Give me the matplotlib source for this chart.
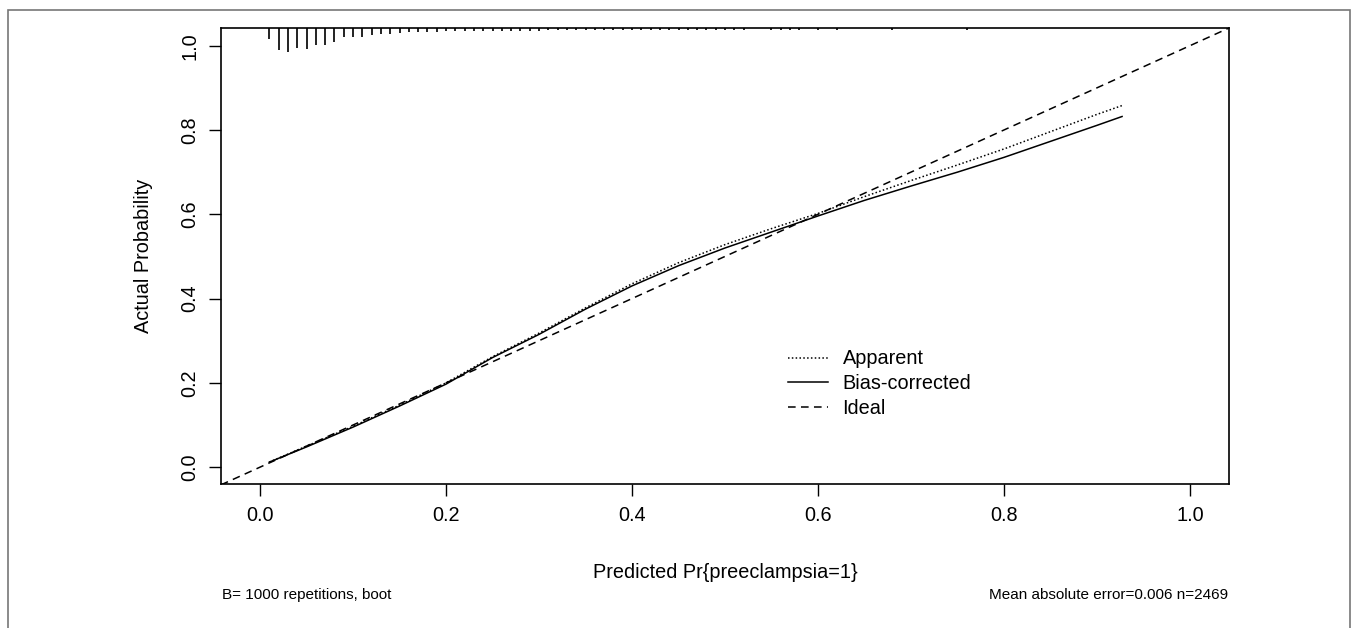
import numpy as np
import matplotlib
matplotlib.use("Agg")
import matplotlib.pyplot as plt
from matplotlib.patches import Rectangle

plt.rcParams['font.family'] = ['Liberation Sans', 'DejaVu Sans']

# calibration curves
pred = [0.01, 0.05, 0.10, 0.15, 0.20, 0.25, 0.30, 0.35, 0.40, 0.45,
        0.50, 0.55, 0.60, 0.65, 0.70, 0.75, 0.80, 0.85, 0.90, 0.927]
apparent = [0.012, 0.050, 0.097, 0.147, 0.200, 0.262, 0.318, 0.378, 0.435, 0.485,
            0.528, 0.566, 0.602, 0.642, 0.680, 0.717, 0.755, 0.796, 0.837, 0.858]
bias_corrected = [0.012, 0.048, 0.095, 0.145, 0.197, 0.260, 0.315, 0.375, 0.430, 0.478,
                  0.520, 0.558, 0.596, 0.633, 0.667, 0.700, 0.735, 0.773, 0.811, 0.832]

# distribution of predictions (spike histogram at top), heights in pixels
rug_x = [0.01, 0.02, 0.03, 0.04, 0.05, 0.06, 0.07, 0.08, 0.09, 0.10,
         0.11, 0.12, 0.13, 0.14, 0.15, 0.16, 0.17, 0.18, 0.19, 0.20,
         0.21, 0.22, 0.23, 0.24, 0.25, 0.26, 0.27, 0.28, 0.29, 0.30,
         0.31, 0.32, 0.33, 0.34, 0.35, 0.36, 0.37, 0.38, 0.39, 0.40,
         0.41, 0.42, 0.43, 0.44, 0.45, 0.46, 0.47, 0.48, 0.49, 0.50,
         0.51, 0.52, 0.55, 0.56, 0.57, 0.58, 0.60, 0.62, 0.68, 0.76]
rug_px = [11, 22, 24, 20, 21, 17, 17, 14, 9, 9,
          9, 7, 6, 6, 5, 4, 4, 4, 4, 3,
          3, 3, 3, 3, 2.5, 2.5, 3, 3, 3, 3,
          2, 2, 2, 2, 2, 2, 2, 2, 2, 2,
          2, 2, 2, 2, 2, 2, 2, 2, 2, 2,
          2, 2, 2, 2, 2, 2, 1.5, 1.5, 1.5, 1.5]

xlim = (-0.042, 1.042)
ylim = (-0.040, 1.042)

fig = plt.figure(figsize=(13.57, 6.28), dpi=100)
ax = fig.add_axes([221 / 1357, 1 - 484 / 628, 1008 / 1357, 456 / 628])

# outer frame of the figure
fig.patches.append(Rectangle((8 / 1357, -0.02), 1342 / 1357, 1.02 - 10 / 628,
                             transform=fig.transFigure, fill=False,
                             edgecolor='#777777', linewidth=1.2))

px_per_unit = 456 / (ylim[1] - ylim[0])
h = np.array(rug_px) / px_per_unit
ax.vlines(rug_x, ylim[1] - h, ylim[1], color='#222222', linewidth=1.4)

ax.plot(xlim, xlim, color='black', linestyle=(0, (5, 3.5)), linewidth=1.1, label='Ideal')
ax.plot(pred, apparent, color='black', linestyle=(0, (1, 1.5)), linewidth=1.1, label='Apparent')
ax.plot(pred, bias_corrected, color='black', linestyle='-', linewidth=1.1, label='Bias-corrected')

ax.set_xlim(xlim)
ax.set_ylim(ylim)
ax.set_xticks([0.0, 0.2, 0.4, 0.6, 0.8, 1.0])
ax.set_yticks([0.0, 0.2, 0.4, 0.6, 0.8, 1.0])
ax.set_xticklabels(['0.0', '0.2', '0.4', '0.6', '0.8', '1.0'])
ax.set_yticklabels(['0.0', '0.2', '0.4', '0.6', '0.8', '1.0'], rotation=90, va='center')
ax.tick_params(direction='out', length=8.5, width=1.0, labelsize=14.3, pad=7)
for s in ax.spines.values():
    s.set_linewidth(1.2)

ax.set_xlabel('Predicted Pr{preeclampsia=1}', fontsize=14.3, labelpad=28)
ax.set_ylabel('Actual Probability', fontsize=14.3, labelpad=20)

handles, labels = ax.get_legend_handles_labels()
order = [1, 2, 0]
ax.legend([handles[i] for i in order], [labels[i] for i in order],
          loc='upper left', bbox_to_anchor=(0.5625, 0.295), frameon=False,
          fontsize=14.3, handlelength=2.0, handletextpad=0.75,
          labelspacing=0.28, borderpad=0, borderaxespad=0)

fig.text(222 / 1357, 1 - 595 / 628, 'B= 1000 repetitions, boot',
         fontsize=11, ha='left', va='center')
fig.text(1228 / 1357, 1 - 595 / 628, 'Mean absolute error=0.006 n=2469',
         fontsize=11, ha='right', va='center')

fig.savefig('out.png', dpi=100)
